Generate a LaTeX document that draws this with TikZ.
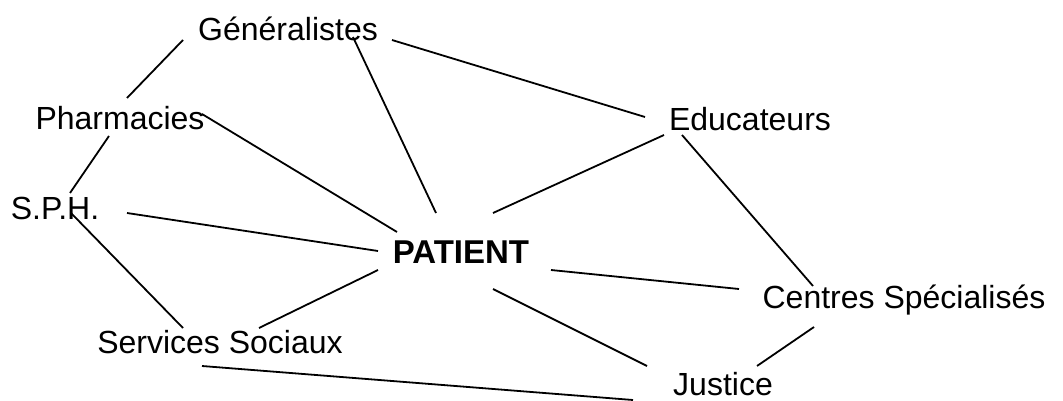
\documentclass[tikz,border=0pt]{standalone}
\usepackage{fontspec}
\setmainfont{Liberation Sans}
\begin{document}
\begin{tikzpicture}[x=1pt,y=-1pt,
  lbl/.style={inner sep=0pt,anchor=base,font=\fontsize{32}{36}\selectfont},
  link/.style={line width=1.8pt,black}]
\useasboundingbox (0,0) rectangle (1063,401);
% nodes
\node[lbl] (gen) at (288,41) {Généralistes};
\node[lbl] (pha) at (120,130) {Pharmacies};
\node[lbl] (sph) at (55,219) {S.P.H.};
\node[lbl,font=\fontsize{33}{36}\selectfont\bfseries] (pat) at (461,263) {PATIENT};
\node[lbl] (ss) at (220,353) {Services Sociaux};
\node[lbl] (edu) at (750,131) {Educateurs};
\node[lbl] (cen) at (904,308) {Centres Spécialisés};
\node[lbl] (jus) at (723,395) {Justice};
% connector end points
\coordinate (genA) at (183,40);   \coordinate (phaA) at (127,98);
\coordinate (genB) at (392,40);   \coordinate (eduA) at (645,117);
\coordinate (genC) at (353,37);   \coordinate (patA) at (436,213);
\coordinate (phaB) at (202,114);  \coordinate (patB) at (397,232);
\coordinate (phaC) at (109,136);  \coordinate (sphA) at (70,193);
\coordinate (sphB) at (127,213);  \coordinate (patC) at (378,251);
\coordinate (sphC) at (71,213);   \coordinate (ssA) at (183,328);
\coordinate (ssB) at (259,328);   \coordinate (patD) at (378,270);
\coordinate (ssC) at (202,366);   \coordinate (jusA) at (633,400);
\coordinate (patE) at (493,213);  \coordinate (eduB) at (664,135);
\coordinate (eduC) at (682,135);  \coordinate (cenA) at (813,286);
\coordinate (patF) at (551,270);  \coordinate (cenB) at (739,289);
\coordinate (patG) at (493,289);  \coordinate (jusB) at (647,366);
\coordinate (cenC) at (814,327);  \coordinate (jusC) at (757,366);
% connectors
\draw[link] (genA) -- (phaA);
\draw[link] (genB) -- (eduA);
\draw[link] (genC) -- (patA);
\draw[link] (phaB) -- (patB);
\draw[link] (phaC) -- (sphA);
\draw[link] (sphB) -- (patC);
\draw[link] (sphC) -- (ssA);
\draw[link] (ssB) -- (patD);
\draw[link] (ssC) -- (jusA);
\draw[link] (patE) -- (eduB);
\draw[link] (eduC) -- (cenA);
\draw[link] (patF) -- (cenB);
\draw[link] (patG) -- (jusB);
\draw[link] (cenC) -- (jusC);
\end{tikzpicture}
\end{document}
